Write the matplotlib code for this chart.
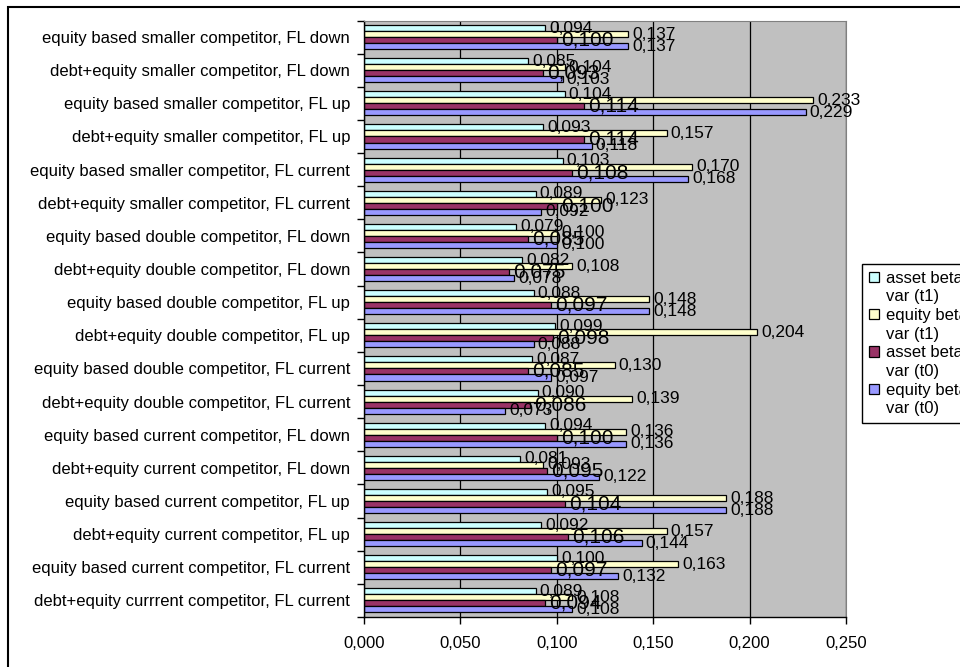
import numpy as np
import matplotlib
matplotlib.use("Agg")
import matplotlib.pyplot as plt
from matplotlib.patches import Patch, Rectangle

plt.rcParams['font.family'] = ['Liberation Sans', 'DejaVu Sans']

categories = [
    "equity based smaller competitor, FL down",
    "debt+equity smaller competitor, FL down",
    "equity based smaller competitor, FL up",
    "debt+equity smaller competitor, FL up",
    "equity based smaller competitor, FL current",
    "debt+equity smaller competitor, FL current",
    "equity based double competitor, FL down",
    "debt+equity double competitor, FL down",
    "equity based double competitor, FL up",
    "debt+equity double competitor, FL up",
    "equity based double competitor, FL current",
    "debt+equity double competitor, FL current",
    "equity based current competitor, FL down",
    "debt+equity current competitor, FL down",
    "equity based current competitor, FL up",
    "debt+equity current competitor, FL up",
    "equity based current competitor, FL current",
    "debt+equity currrent competitor, FL current",
]

asset_beta_t1 = [0.094, 0.085, 0.104, 0.093, 0.103, 0.089, 0.079, 0.082, 0.088,
                 0.099, 0.087, 0.090, 0.094, 0.081, 0.095, 0.092, 0.100, 0.089]
equity_beta_t1 = [0.137, 0.104, 0.233, 0.157, 0.170, 0.123, 0.100, 0.108, 0.148,
                  0.204, 0.130, 0.139, 0.136, 0.093, 0.188, 0.157, 0.163, 0.108]
asset_beta_t0 = [0.100, 0.093, 0.114, 0.114, 0.108, 0.100, 0.085, 0.075, 0.097,
                 0.098, 0.085, 0.086, 0.100, 0.095, 0.104, 0.106, 0.097, 0.094]
equity_beta_t0 = [0.137, 0.103, 0.229, 0.118, 0.168, 0.092, 0.100, 0.078, 0.148,
                  0.088, 0.097, 0.073, 0.136, 0.122, 0.188, 0.144, 0.132, 0.108]

series = [
    ("asset beta", "var (t1)", asset_beta_t1, "#CCFFFF", 12.5),
    ("equity beta", "var (t1)", equity_beta_t1, "#FFFFCC", 12.5),
    ("asset beta", "var (t0)", asset_beta_t0, "#993366", 15),
    ("equity beta", "var (t0)", equity_beta_t0, "#9999FF", 12.5),
]

fig = plt.figure(figsize=(9.6, 6.67), dpi=100)
ax = fig.add_axes([364 / 960, 1 - 617 / 667, 482 / 960, 596.5 / 667])
ax.set_facecolor("#C0C0C0")

# outer chart frame, runs off the right and bottom of the canvas
fig.add_artist(Rectangle((8 / 960, -0.1), 1.2, 1 - 7 / 667 + 0.1,
                         transform=fig.transFigure, fill=False,
                         ec="black", lw=1.5))

n = len(categories)
index = np.arange(n)
bar_h = 1 / 5.5

handles, labels = [], []
for k, (name1, name2, vals, color, lsize) in enumerate(series):
    bars = ax.barh(index + (k - 1.5) * bar_h, vals, bar_h, color=color,
                   edgecolor="black", linewidth=0.9, zorder=2)
    ax.bar_label(bars, labels=[f"{v:.3f}".replace(".", ",") for v in vals],
                 padding=3, fontsize=lsize, zorder=3)
    handles += [Patch(fc=color, ec="black", lw=0.9), Patch(fc="none", ec="none")]
    labels += [name1, name2]

ticks = np.arange(0, 0.2501, 0.05)
ax.set_xlim(0, 0.25)
ax.set_ylim(n - 0.5, -0.5)
ax.set_xticks(ticks)
ax.set_xticklabels([f"{t:.3f}".replace(".", ",") for t in ticks], fontsize=12)
ax.set_yticks(index)
ax.set_yticklabels(categories, fontsize=12)
ax.set_yticks(np.arange(-0.5, n, 1), minor=True)
ax.tick_params(axis="y", which="major", length=0, pad=10)
ax.tick_params(axis="y", which="minor", length=5, direction="out", width=1)
ax.tick_params(axis="x", length=5, direction="out", width=1, pad=9)
ax.grid(axis="x", color="black", linewidth=0.9, zorder=1)
ax.set_axisbelow(True)

for s in ("top", "right"):
    ax.spines[s].set_color("#808080")
for s in ("left", "bottom"):
    ax.spines[s].set_color("black")
    ax.spines[s].set_linewidth(1)

leg = fig.legend(handles, labels, loc="upper left",
                 bbox_to_anchor=(862 / 960, 1 - 264 / 667, 0.35, 0),
                 bbox_transform=fig.transFigure, mode="expand",
                 fontsize=12, frameon=True, fancybox=False, framealpha=1,
                 edgecolor="black", handlelength=0.6, handleheight=0.6,
                 handletextpad=0.45, labelspacing=0.22, borderpad=0.4,
                 borderaxespad=0)
leg.get_frame().set_linewidth(1)

fig.savefig("out.png", dpi=100)
